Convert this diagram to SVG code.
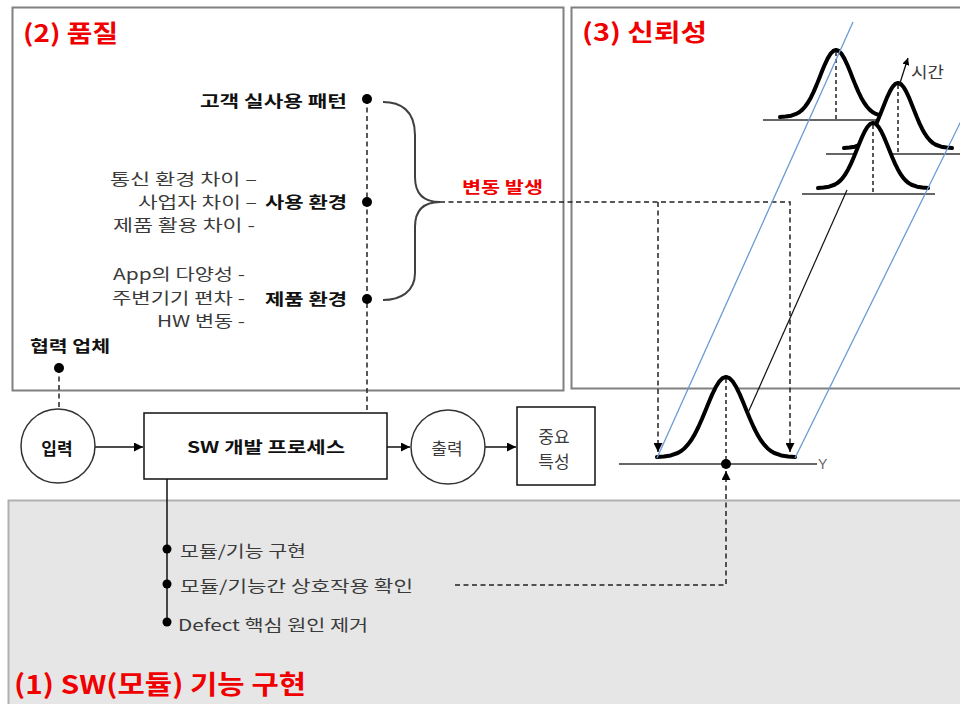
<svg xmlns="http://www.w3.org/2000/svg" width="960" height="704" viewBox="0 0 960 704">
<style>
text{font-family:"Noto Sans CJK KR","Malgun Gothic",sans-serif;}
.title{font-size:24px;font-weight:bold;fill:#f00000;}
.b{font-size:16px;font-weight:bold;fill:#111;}
.r{font-size:16px;fill:#3a3a3a;}
.red{font-size:16px;font-weight:bold;fill:#f00000;}
.panel{fill:#fff;stroke:#808080;stroke-width:2;}
.gray{fill:#e6e6e6;stroke:#b0b0b0;stroke-width:2;}
.dash{fill:none;stroke:#222;stroke-width:1.5;stroke-dasharray:5,3.5;}
.solid{fill:none;stroke:#111;stroke-width:1.5;}
.node{fill:#fff;stroke:#333;stroke-width:1.5;}
.dot{fill:#000;}
.bell{fill:#fff;stroke:#000;stroke-width:4;stroke-linejoin:round;stroke-linecap:round;}
.vdash{stroke:#222;stroke-width:1.5;stroke-dasharray:4,3;}
.base{stroke:#333;stroke-width:1.3;}
.blue{stroke:#6b9bd2;stroke-width:1.3;}
</style>
<defs>
<marker id="ah" viewBox="0 0 10 10" refX="10" refY="5" markerWidth="9" markerHeight="9" markerUnits="userSpaceOnUse" orient="auto"><path d="M0,0 L10,5 L0,10 Z" fill="#000"/></marker>
<marker id="ahs" viewBox="0 0 10 10" refX="10" refY="5" markerWidth="7" markerHeight="7" markerUnits="userSpaceOnUse" orient="auto"><path d="M0,0 L10,5 L0,10 Z" fill="#000"/></marker>
<path id="bellp" vector-effect="non-scaling-stroke" d="M-100,0 L-90,-0.7 -80,-2 -70,-5 -65,-7.5 -60,-11 -55,-15.7 -50,-21.6 -45,-28.9 -40,-37.5 -35,-47.2 -30,-57.6 -25,-68.2 -20,-78.3 -15,-87.1 -10,-94.1 -5,-98.5 0,-100 5,-98.5 10,-94.1 15,-87.1 20,-78.3 25,-68.2 30,-57.6 35,-47.2 40,-37.5 45,-28.9 50,-21.6 55,-15.7 60,-11 65,-7.5 70,-5 80,-2 90,-0.7 100,0"/>
</defs>

<!-- panels -->
<g id="panel-quality">
<rect class="panel" x="12.5" y="7.5" width="551" height="383"/>
<text class="title" x="23" y="42" textLength="95" lengthAdjust="spacingAndGlyphs">(2) 품질</text>
</g>
<g id="panel-reliability">
<rect class="panel" x="571.5" y="7.5" width="400" height="381"/>
<text class="title" x="582" y="41" textLength="125" lengthAdjust="spacingAndGlyphs">(3) 신뢰성</text>
</g>
<g id="panel-function">
<rect class="gray" x="8.5" y="500.5" width="960" height="210"/>
<text class="title" x="14" y="694" style="font-size:26px" textLength="292" lengthAdjust="spacingAndGlyphs">(1) SW(모듈) 기능 구현</text>
</g>

<!-- connectors -->
<g id="connectors">
<path class="dash" d="M59,368 V409"/>
<path class="dash" d="M367,99 V413"/>
<path d="M383,102 C400,102 415,110 415,135 L415,177 C415,195 425,202 440,202 C425,202 415,209 415,227 L415,273 C415,292 400,300 383,300" fill="none" stroke="#404040" stroke-width="2"/>
<path class="dash" d="M440,202 H790 V452" marker-end="url(#ah)"/>
<path class="dash" d="M658,202 V452" marker-end="url(#ah)"/>
<path class="solid" d="M95,447 H143" marker-end="url(#ah)"/>
<path class="solid" d="M387,447 H410" marker-end="url(#ah)"/>
<path class="solid" d="M485,447 H516" marker-end="url(#ah)"/>
<path class="solid" d="M167,479 V622"/>
<path class="dash" d="M455,585 H726 V471" marker-end="url(#ah)"/>
</g>

<!-- quality items -->
<g id="item-pattern">
<text class="b" x="200" y="107" textLength="147" lengthAdjust="spacingAndGlyphs">고객 실사용 패턴</text>
<circle class="dot" cx="367" cy="99" r="5"/>
</g>
<g id="item-usage">
<text class="r" x="110" y="185" textLength="147" lengthAdjust="spacingAndGlyphs">통신 환경 차이 –</text>
<text class="r" x="138" y="208" textLength="119" lengthAdjust="spacingAndGlyphs">사업자 차이 –</text>
<text class="r" x="113" y="231" textLength="142" lengthAdjust="spacingAndGlyphs">제품 활용 차이 -</text>
<text class="b" x="265" y="208" textLength="82" lengthAdjust="spacingAndGlyphs">사용 환경</text>
<circle class="dot" cx="367" cy="202" r="5"/>
</g>
<g id="item-product">
<text class="r" x="113" y="280" textLength="132" lengthAdjust="spacingAndGlyphs">App의 다양성 -</text>
<text class="r" x="112" y="304" textLength="133" lengthAdjust="spacingAndGlyphs">주변기기 편차 -</text>
<text class="r" x="157" y="327" textLength="88" lengthAdjust="spacingAndGlyphs">HW 변동 -</text>
<text class="b" x="265" y="305" textLength="82" lengthAdjust="spacingAndGlyphs">제품 환경</text>
<circle class="dot" cx="367" cy="299" r="5"/>
</g>
<g id="label-variation">
<text class="red" x="462" y="193" textLength="81" lengthAdjust="spacingAndGlyphs">변동 발생</text>
</g>
<g id="item-partner">
<text class="b" x="30" y="352" textLength="80" lengthAdjust="spacingAndGlyphs">협력 업체</text>
<circle class="dot" cx="59" cy="368" r="5"/>
</g>

<!-- flow nodes -->
<g id="node-input">
<circle class="node" cx="58" cy="446" r="37"/>
<text class="b" x="57" y="455" text-anchor="middle" style="font-size:17px">입력</text>
</g>
<g id="node-process">
<rect x="144" y="413" width="243" height="66" fill="#fff" stroke="#111" stroke-width="1.5"/>
<text class="b" x="187" y="453" textLength="158" lengthAdjust="spacingAndGlyphs">SW 개발 프로세스</text>
</g>
<g id="node-output">
<circle class="node" cx="448" cy="447" r="37"/>
<text class="r" x="447" y="455" text-anchor="middle" style="font-size:17px">출력</text>
</g>
<g id="node-key">
<rect x="517" y="407" width="78" height="78" fill="#fff" stroke="#111" stroke-width="1.5"/>
<text class="r" x="554" y="443" text-anchor="middle" style="font-size:17px">중요</text>
<text class="r" x="554" y="468" text-anchor="middle" style="font-size:17px">특성</text>
</g>

<!-- function items -->
<g id="item-module">
<circle class="dot" cx="167" cy="549" r="4.5"/>
<text class="r" x="180" y="557" textLength="126" lengthAdjust="spacingAndGlyphs">모듈/기능 구현</text>
</g>
<g id="item-interaction">
<circle class="dot" cx="167" cy="584" r="4.5"/>
<text class="r" x="180" y="592" textLength="233" lengthAdjust="spacingAndGlyphs">모듈/기능간 상호작용 확인</text>
</g>
<g id="item-defect">
<circle class="dot" cx="167" cy="622" r="4.5"/>
<text class="r" x="178" y="631" textLength="190" lengthAdjust="spacingAndGlyphs">Defect 핵심 원인 제거</text>
</g>

<!-- reliability distributions -->
<g id="dist-time">
<line class="base" x1="763" y1="120" x2="885" y2="120"/>
<use href="#bellp" class="bell" transform="translate(836,117) scale(0.56,0.67)"/>
<line class="vdash" x1="836" y1="52" x2="836" y2="120"/>
<line class="base" x1="826" y1="154" x2="960" y2="154"/>
<use href="#bellp" class="bell" transform="translate(898,148) scale(0.54,0.65)"/>
<line class="vdash" x1="898" y1="85" x2="898" y2="154"/>
<line class="base" x1="802" y1="194" x2="935" y2="194"/>
<use href="#bellp" class="bell" transform="translate(873,188) scale(0.55,0.65)"/>
<line class="vdash" x1="873" y1="125" x2="873" y2="194"/>
<path class="solid" d="M899,86 L908,58" style="stroke-width:1.3" marker-end="url(#ahs)"/>
<text class="r" x="911" y="78" textLength="33" lengthAdjust="spacingAndGlyphs">시간</text>
</g>
<g id="dist-y">
<line class="base" x1="619" y1="464" x2="817" y2="464"/>
<use href="#bellp" class="bell" transform="translate(726,457) scale(0.69,0.80)"/>
<line class="vdash" x1="726" y1="379" x2="726" y2="464"/>
<circle class="dot" cx="726" cy="464" r="5"/>
<text x="818" y="469" style="font-size:14px;font-family:'Liberation Sans',sans-serif;fill:#666">Y</text>
</g>
<g id="drift-lines">
<line class="blue" x1="657" y1="458" x2="853" y2="22"/>
<line class="blue" x1="795" y1="458" x2="965" y2="113"/>
<line stroke="#111" stroke-width="1.2" x1="747" y1="415" x2="847" y2="190"/>
</g>
</svg>
